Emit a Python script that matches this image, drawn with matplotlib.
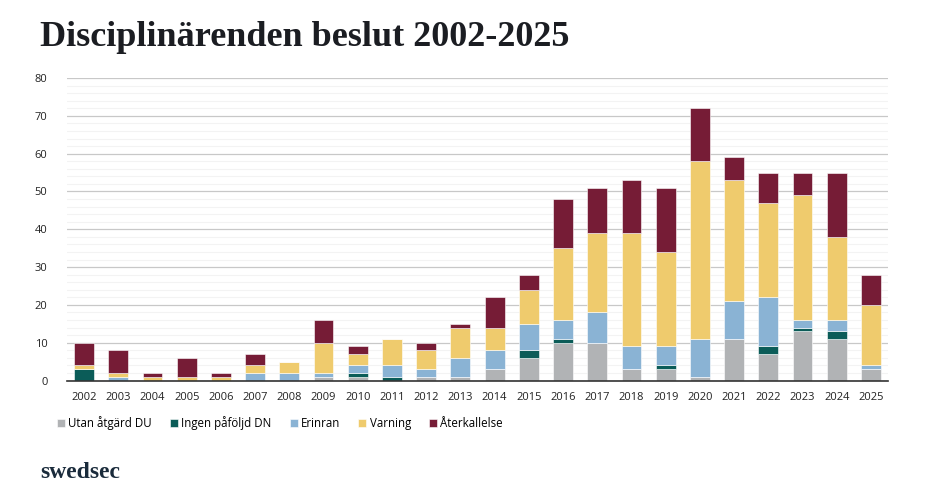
import numpy as np
import matplotlib.pyplot as plt

years = [str(y) for y in range(2002, 2026)]

# antal beslut per kategori och år
utan_atgard = [0, 0, 0, 0, 0, 0, 0, 1, 1, 0, 1, 1, 3, 6, 10, 10, 3, 3, 1, 11, 7, 13, 11, 3]
ingen_pafoljd = [3, 0, 0, 0, 0, 0, 0, 0, 1, 1, 0, 0, 0, 2, 1, 0, 0, 1, 0, 0, 2, 1, 2, 0]
erinran = [0, 1, 0, 0, 0, 2, 2, 1, 2, 3, 2, 5, 5, 7, 5, 8, 6, 5, 10, 10, 13, 2, 3, 1]
varning = [1, 1, 1, 1, 1, 2, 3, 8, 3, 7, 5, 8, 6, 9, 19, 21, 30, 25, 47, 32, 25, 33, 22, 16]
aterkallelse = [6, 6, 1, 5, 1, 3, 0, 6, 2, 0, 2, 1, 8, 4, 13, 12, 14, 17, 14, 6, 8, 6, 17, 8]

series = [
    ("Utan åtgärd DU", utan_atgard, "#b1b3b5"),
    ("Ingen påföljd DN", ingen_pafoljd, "#0b5c58"),
    ("Erinran", erinran, "#8ab3d4"),
    ("Varning", varning, "#efcb6d"),
    ("Återkallelse", aterkallelse, "#761c36"),
]

plt.rcParams['font.family'] = ['Open Sans', 'DejaVu Sans']

fig = plt.figure(figsize=(9.33, 4.97), dpi=100)
ax = fig.add_axes([0.0718, 0.2344, 0.88, 0.6086])

x = np.arange(len(years))
bottom = np.zeros(len(years))
for name, vals, col in series:
    ax.bar(x, vals, width=0.58, bottom=bottom, color=col, label=name,
           edgecolor="white", linewidth=0.4, zorder=3)
    bottom += np.array(vals)

ax.set_xlim(-0.5, 23.5)
ax.set_ylim(0, 80)
ax.set_yticks(range(0, 81, 10))
ax.set_yticks(range(0, 81, 2), minor=True)
ax.grid(axis="y", which="major", color="#c8c8c8", linewidth=0.9, zorder=0)
ax.grid(axis="y", which="minor", color="#f3f3f3", linewidth=0.8, zorder=0)
ax.set_xticks(x)
ax.set_xticklabels(years)
ax.tick_params(axis="both", which="both", length=0, labelsize=8, colors="#222222")
ax.tick_params(axis="y", pad=14)
ax.tick_params(axis="x", pad=8)
for side in ["top", "right", "left"]:
    ax.spines[side].set_visible(False)
ax.spines["bottom"].set_color("#333333")
ax.spines["bottom"].set_linewidth(1.2)
ax.spines["bottom"].set_zorder(4)

leg = fig.legend(loc="upper left", bbox_to_anchor=(0.056, 0.172), ncol=5, frameon=False,
                 fontsize=8.3, handlelength=0.7, handleheight=0.7, handletextpad=0.3,
                 columnspacing=1.55, borderaxespad=0)

fig.text(0.043, 0.908, "Disciplinärenden beslut 2002-2025", fontsize=26, fontweight="bold",
         family="Liberation Serif", color="#1b1d22", va="baseline")
fig.text(0.043, 0.038, "swedsec", fontsize=17, fontweight="bold",
         family="Liberation Serif", color="#1a2b3b", va="baseline")

fig.savefig("out.png", dpi=100)
